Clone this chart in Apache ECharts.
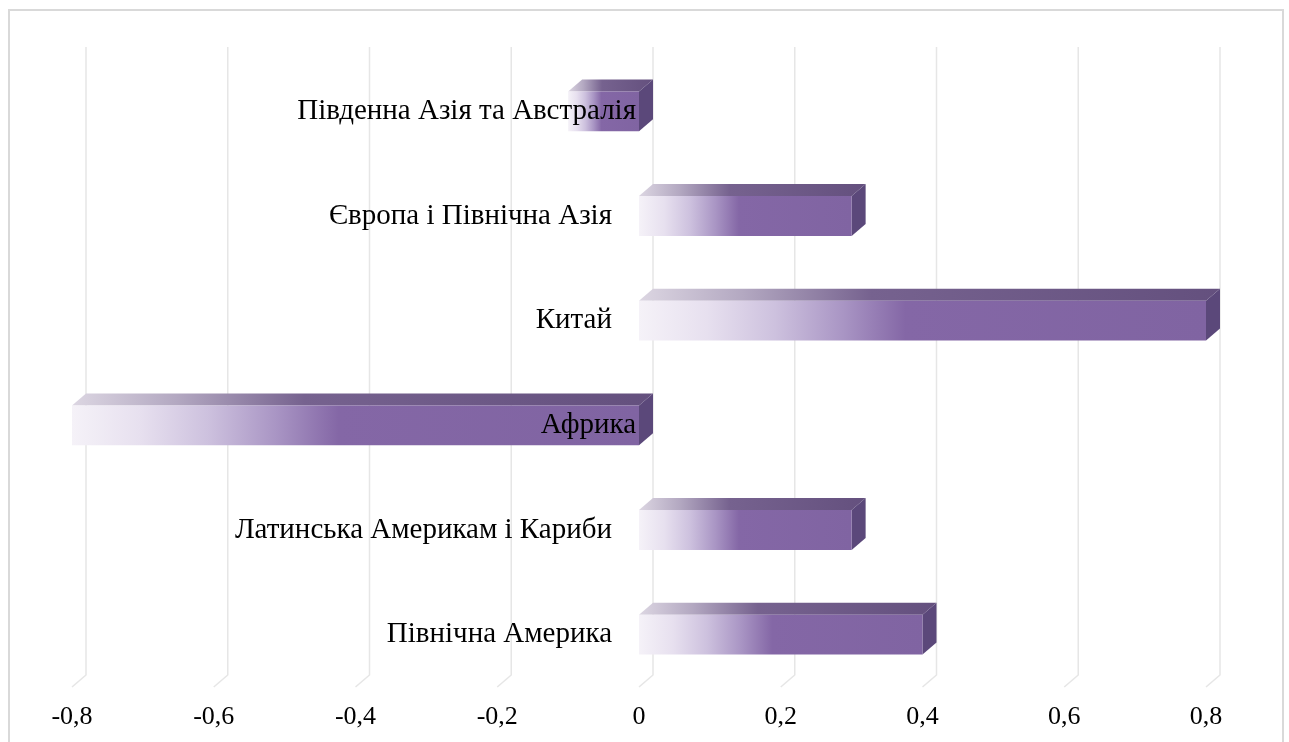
<!DOCTYPE html>
<html>
<head>
<meta charset="utf-8">
<script src="https://cdn.jsdelivr.net/npm/echarts@6/dist/echarts.min.js"></script>
<style>
  html, body { margin: 0; padding: 0; background: #ffffff; }
  #chart { position: absolute; left: 0; top: 0; width: 1289px; height: 742px; }
  #frame { position: absolute; left: 8px; top: 9px; width: 1276px; height: 760px;
           border: 2px solid #d9d9d9; box-sizing: border-box; pointer-events: none; }
</style>
</head>
<body>
<div id="chart"></div>
<div id="frame"></div>
<script>
// Regions, listed bottom to top as they appear on the category axis
const categories = [
  'Північна Америка',
  'Латинська Америкам і Кариби',
  'Африка',
  'Китай',
  'Європа і Північна Азія',
  'Південна Азія та Австралія'
];
const values = [0.4, 0.3, -0.8, 0.8, 0.3, -0.1];
const tickValues = [-0.8, -0.6, -0.4, -0.2, 0, 0.2, 0.4, 0.6, 0.8];

const X_MIN = -0.8, X_MAX = 0.8;
const GRID = { left: 72, right: 83, top: 59, bottom: 55 };
const WIDTH = 1289;
// Distance from the plot's left edge to the zero line, so the category
// axis (and its labels) can sit on x = 0
const zeroShift = (WIDTH - GRID.left - GRID.right) * (0 - X_MIN) / (X_MAX - X_MIN);

// Depth of the extruded bars and the back wall, in pixels
const DX = 14, DY = 12;
const FONT = '"Liberation Serif", "Times New Roman", serif';

const frontFill = new echarts.graphic.LinearGradient(0, 0, 1, 0, [
  { offset: 0.00, color: '#f5f2f8' },
  { offset: 0.12, color: '#e7e0ef' },
  { offset: 0.24, color: '#cdc1de' },
  { offset: 0.36, color: '#a995c4' },
  { offset: 0.47, color: '#8467a6' },
  { offset: 1.00, color: '#8064a2' }
]);
const topFill = new echarts.graphic.LinearGradient(0, 0, 1, 0, [
  { offset: 0.00, color: '#dcd6e2' },
  { offset: 0.18, color: '#b3a8c1' },
  { offset: 0.40, color: '#76628f' },
  { offset: 1.00, color: '#64507e' }
]);
const sideFill = '#5b487a';

function fmtTick(v) {
  return String(Math.round(v * 10) / 10).replace('.', ',');
}

function renderGridLine(params, api) {
  const cs = params.coordSys;
  const x = api.coord([api.value(0), 0])[0];
  const bottom = cs.y + cs.height;
  const top = cs.y;
  return {
    type: 'polyline',
    shape: { points: [[x, bottom], [x + DX, bottom - DY], [x + DX, top - DY]] },
    style: { stroke: '#e6e6e6', lineWidth: 1.5, fill: 'none' }
  };
}

function renderBar(params, api) {
  const v = api.value(0), idx = api.value(1);
  const p0 = api.coord([0, idx]);
  const p1 = api.coord([v, idx]);
  const h = api.size([0, 1])[1] * 0.38;
  const xl = Math.min(p0[0], p1[0]);
  const xr = Math.max(p0[0], p1[0]);
  const yt = p0[1] - h / 2, yb = p0[1] + h / 2;
  return {
    type: 'group',
    children: [
      { type: 'polygon',
        shape: { points: [[xl, yt], [xl + DX, yt - DY], [xr + DX, yt - DY], [xr, yt]] },
        style: { fill: topFill } },
      { type: 'polygon',
        shape: { points: [[xr, yt], [xr + DX, yt - DY], [xr + DX, yb - DY], [xr, yb]] },
        style: { fill: sideFill } },
      { type: 'rect',
        shape: { x: xl, y: yt, width: xr - xl, height: h },
        style: { fill: frontFill } }
    ]
  };
}

// Labels of regions with a negative value sit right on the zero line
const negCats = new Set(categories.filter((c, i) => values[i] < 0));

const chart = echarts.init(document.getElementById('chart'), null, { renderer: 'canvas' });
chart.setOption({
  backgroundColor: '#ffffff',
  animation: false,
  grid: Object.assign({ containLabel: false, outerBoundsMode: 'none' }, GRID),
  xAxis: {
    type: 'value',
    min: X_MIN, max: X_MAX, interval: 0.2,
    axisLine: { show: false, onZero: false },
    axisTick: { show: false },
    splitLine: { show: false },
    axisLabel: {
      fontFamily: FONT, fontSize: 26, color: '#000000', margin: 17,
      formatter: fmtTick
    }
  },
  yAxis: {
    type: 'category',
    data: categories,
    z: 10,
    position: 'left',
    offset: -zeroShift,
    axisLine: { show: false },
    axisTick: { show: false },
    splitLine: { show: false },
    axisLabel: {
      margin: 3,
      formatter: (c) => negCats.has(c) ? '{n|' + c + '}' : '{p|' + c + '}',
      rich: {
        n: { fontFamily: FONT, fontSize: 29, color: '#000000' },
        p: { fontFamily: FONT, fontSize: 29, color: '#000000', padding: [0, 24, 0, 0] }
      }
    }
  },
  series: [
    {
      type: 'custom',
      z: 1,
      silent: true,
      renderItem: renderGridLine,
      encode: { x: 0, y: 1 },
      data: tickValues.map(t => [t, 0])
    },
    {
      type: 'custom',
      z: 2,
      renderItem: renderBar,
      encode: { x: 0, y: 1 },
      data: values.map((v, i) => [v, i])
    }
  ]
});
</script>
</body>
</html>
